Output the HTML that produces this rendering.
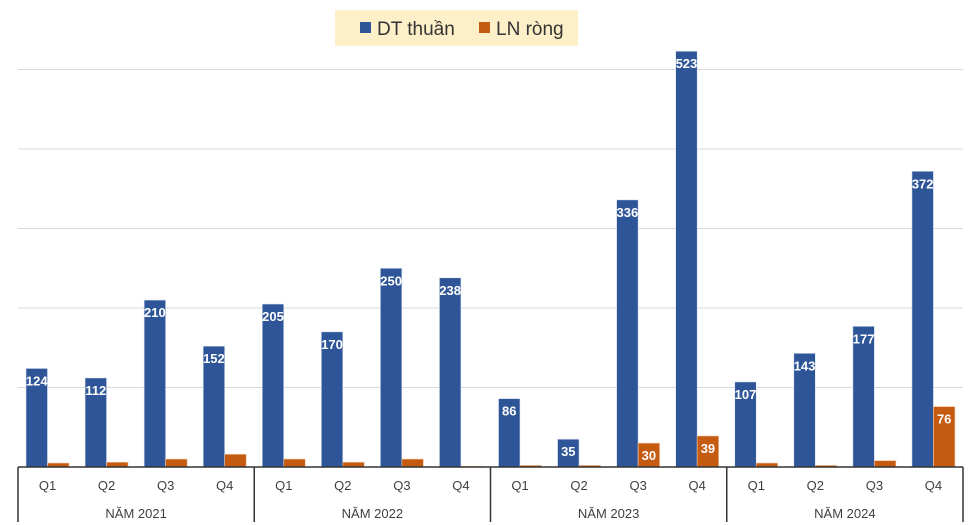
<!DOCTYPE html>
<html><head><meta charset="utf-8"><style>
body{margin:0;background:#fff;font-family:"Liberation Sans",sans-serif}
#c{position:absolute;left:0;top:0}
</style></head><body>
<svg id="c" width="975" height="525">
<rect x="335" y="10" width="243" height="36" fill="#fdf0c8"/>
<rect x="360" y="22" width="11" height="11" fill="#2e5597"/>
<text x="377" y="35" font-size="19" fill="#333">DT thuần</text>
<rect x="479" y="22" width="11" height="11" fill="#c55a11"/>
<text x="496" y="35" font-size="19" fill="#333">LN ròng</text>
<g id="grid"></g><g id="bars"></g><g id="axis"></g>
</svg>
<script>
const years=["NĂM 2021","NĂM 2022","NĂM 2023","NĂM 2024"];
const quarters=["Q1","Q2","Q3","Q4"];
const dtValues=[124,112,210,152,205,170,250,238,86,35,336,523,107,143,177,372];
const lnValues=[5,6,10,16,10,6,10,1,2,2,30,39,5,2,8,76];
const gridTicks=[100,200,300,400,500];
const NS="http://www.w3.org/2000/svg";
const X0=18,X1=963,BASE=467,K=0.795;
const catW=(X1-X0)/dtValues.length;
const y=v=>BASE-v*K;
const xc=i=>X0+i*catW;
function mk(t,a,p){const e=document.createElementNS(NS,t);for(const k in a)e.setAttribute(k,a[k]);p.appendChild(e);return e;}
const G=document.getElementById('grid'),B=document.getElementById('bars'),A=document.getElementById('axis');
gridTicks.forEach(t=>{const l=mk('line',{x1:X0,x2:X1,y1:y(t),y2:y(t),stroke:'#d9d9d9','stroke-width':1},G);

});
const bw=21.5;
dtValues.forEach((v,i)=>{
 const r=mk('rect',{x:xc(i)+8,y:y(v),width:bw,height:v*K,fill:'#2e5597',stroke:'#dbe4f3','stroke-width':0.6},B);
 
 
 const t=mk('text',{x:xc(i)+8+bw/2,y:y(v)+17,'font-size':13,'font-weight':'bold',fill:'#fff','text-anchor':'middle'},B);
 t.textContent=v;
 
 
 const w=lnValues[i];
 const o=mk('rect',{x:xc(i)+8+bw,y:y(w),width:bw,height:w*K,fill:'#c55a11',stroke:'#f4c9a8','stroke-width':0.6},B);
 
 
 if(w>=20){const u=mk('text',{x:xc(i)+8+bw*1.5,y:y(w)+17,'font-size':13,'font-weight':'bold',fill:'#fff','text-anchor':'middle'},B);
 u.textContent=w;
 
 }
 const q=mk('text',{x:xc(i)+catW/2,y:490,'font-size':13,fill:'#404040','text-anchor':'middle'},A);
 q.textContent=quarters[i%4];
 
 
});
const bl=mk('line',{x1:X0,x2:X1,y1:BASE,y2:BASE,stroke:'#333','stroke-width':1.5},A);


for(let g=0;g<=years.length;g++){const x=X0+g*4*catW;
 const l=mk('line',{x1:x,x2:x,y1:BASE,y2:522,stroke:'#333','stroke-width':1.5},A);
 
 
 if(g<years.length){const t=mk('text',{x:x+2*catW,y:518,'font-size':13,fill:'#404040','text-anchor':'middle'},A);
 t.textContent=years[g];
 
 }
}
</script>
</body></html>
